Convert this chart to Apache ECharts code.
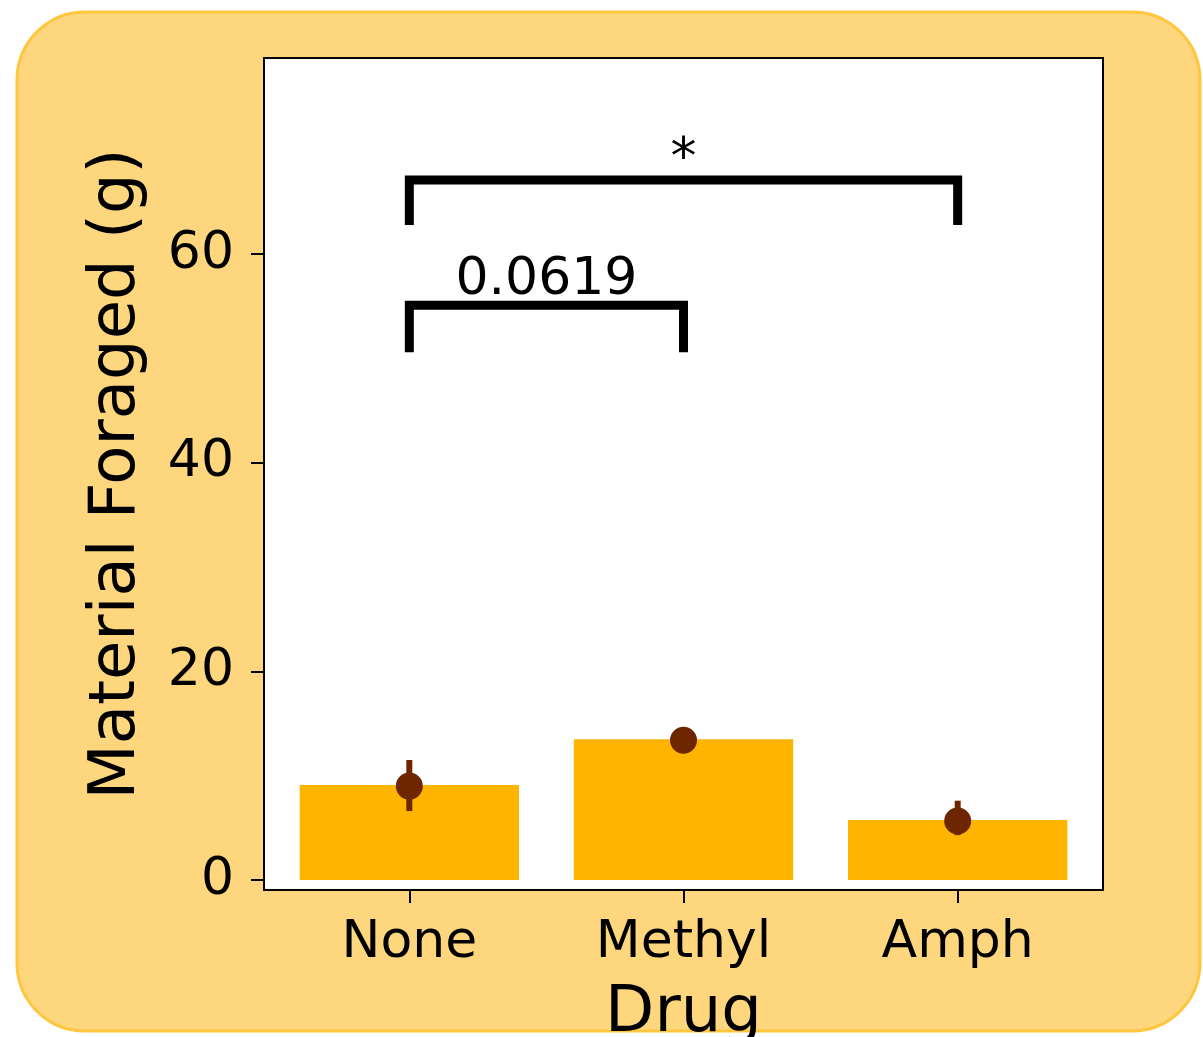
<!DOCTYPE html>
<html><head><meta charset="utf-8">
<script src="https://cdn.jsdelivr.net/npm/echarts@6/dist/echarts.min.js"></script>
<style>html,body{margin:0;padding:0;background:#fff}#c{width:1203px;height:1037px}</style>
</head><body><div id="c"></div>
<script>
// ---- data ----
const categories = ['None', 'Methyl', 'Amph'];
const barValues = [9.1, 13.5, 5.75];
const pointValues = [9.0, 13.4, 5.65];
const errLow = [6.6, 13.0, 4.3];
const errHigh = [11.5, 13.8, 7.6];
const yTicks = [0, 20, 40, 60];
const xTicks = [0, 1, 2];
const bracketFrom = [0, 0];
const bracketTo = [2, 1];
const bracketTop = [67.1, 55.1];
const bracketBottom = [62.8, 50.6];
const bracketText = ['*', '0.0619'];

// ---- styles ----
const FONT = 'DejaVu Sans';
const BAR_COLOR = '#FFB400';
const DOT_COLOR = '#6E2600';
const BAR_WIDTH = 0.8;
const TEXT_GAP = [6, 1];   // pixel gap between bracket and its label (style only)

const chart = echarts.init(document.getElementById('c'), null, {renderer: 'canvas'});

const barData = categories.map((c, i) => [i, barValues[i]]);
const dotData = categories.map((c, i) => [i, pointValues[i]]);
const errData = categories.map((c, i) => [i, errLow[i], errHigh[i]]);
const brData = bracketFrom.map((f, i) => [f, bracketTo[i], bracketTop[i], bracketBottom[i], i]);

const option = {
  animation: false,
  backgroundColor: '#fff',
  graphic: [{
    type: 'rect', z: -100, silent: true,
    shape: {x: 17, y: 12, width: 1183, height: 1019, r: 68},
    style: {fill: '#FDD67E', stroke: '#FFC63F', lineWidth: 3}
  }],
  grid: {
    left: 264, top: 58, width: 839, height: 832,
    outerBoundsMode: 'none', containLabel: false,
    show: true, backgroundColor: '#fff', borderColor: '#000', borderWidth: 2
  },
  xAxis: {
    type: 'value', min: -0.53, max: 2.53,
    splitLine: {show: false},
    axisLine: {show: false, onZero: false},
    axisTick: {show: true, customValues: xTicks, length: 13, lineStyle: {color: '#000', width: 2}},
    axisLabel: {
      customValues: xTicks, formatter: v => categories[Math.round(v)],
      fontSize: 52, fontFamily: FONT, color: '#000', margin: 27
    },
    name: 'Drug', nameLocation: 'middle', nameGap: 92,
    nameTextStyle: {fontSize: 64, fontFamily: FONT, color: '#000'}
  },
  yAxis: {
    type: 'value', min: -0.96, max: 78.8,
    splitLine: {show: false},
    axisLine: {show: false, onZero: false},
    axisTick: {show: true, customValues: yTicks, length: 13, lineStyle: {color: '#000', width: 2}},
    axisLabel: {
      customValues: yTicks,
      fontSize: 52, fontFamily: FONT, color: '#000', margin: 30
    },
    name: 'Material Foraged (g)', nameLocation: 'middle', nameRotate: 90, nameGap: 115,
    nameTextStyle: {fontSize: 64, fontFamily: FONT, color: '#000'}
  },
  series: [
    {
      type: 'custom', data: barData, z: 2,
      renderItem: (params, api) => {
        const x = api.value(0), v = api.value(1);
        const p0 = api.coord([x - BAR_WIDTH / 2, v]);
        const p1 = api.coord([x + BAR_WIDTH / 2, 0]);
        return {type: 'rect', shape: {x: p0[0], y: p0[1], width: p1[0] - p0[0], height: p1[1] - p0[1]},
                style: {fill: BAR_COLOR}};
      }
    },
    {
      type: 'custom', data: errData, z: 3,
      renderItem: (params, api) => {
        const x = api.value(0);
        const a = api.coord([x, api.value(1)]);
        const b = api.coord([x, api.value(2)]);
        return {type: 'line', shape: {x1: a[0], y1: a[1], x2: b[0], y2: b[1]},
                style: {stroke: DOT_COLOR, lineWidth: 6}};
      }
    },
    {
      type: 'scatter', data: dotData, z: 4, symbolSize: 27,
      itemStyle: {color: DOT_COLOR, opacity: 1}
    },
    {
      type: 'custom', data: brData, z: 5, clip: false,
      renderItem: (params, api) => {
        const f = api.value(0), t = api.value(1), top = api.value(2), bot = api.value(3);
        const idx = api.value(4);
        const p1 = api.coord([f, bot]), p2 = api.coord([f, top]);
        const p3 = api.coord([t, top]), p4 = api.coord([t, bot]);
        return {
          type: 'group',
          children: [
            {type: 'polyline', shape: {points: [p1, p2, p3, p4]},
             style: {stroke: '#000', lineWidth: 9, fill: null, lineJoin: 'miter'}},
            {type: 'text', x: (p2[0] + p3[0]) / 2, y: p2[1] + TEXT_GAP[idx],
             style: {text: bracketText[idx], fontSize: 52, fontFamily: FONT, fill: '#000',
                     align: 'center', verticalAlign: 'bottom'}}
          ]
        };
      }
    }
  ]
};
chart.setOption(option);
</script>
</body></html>
